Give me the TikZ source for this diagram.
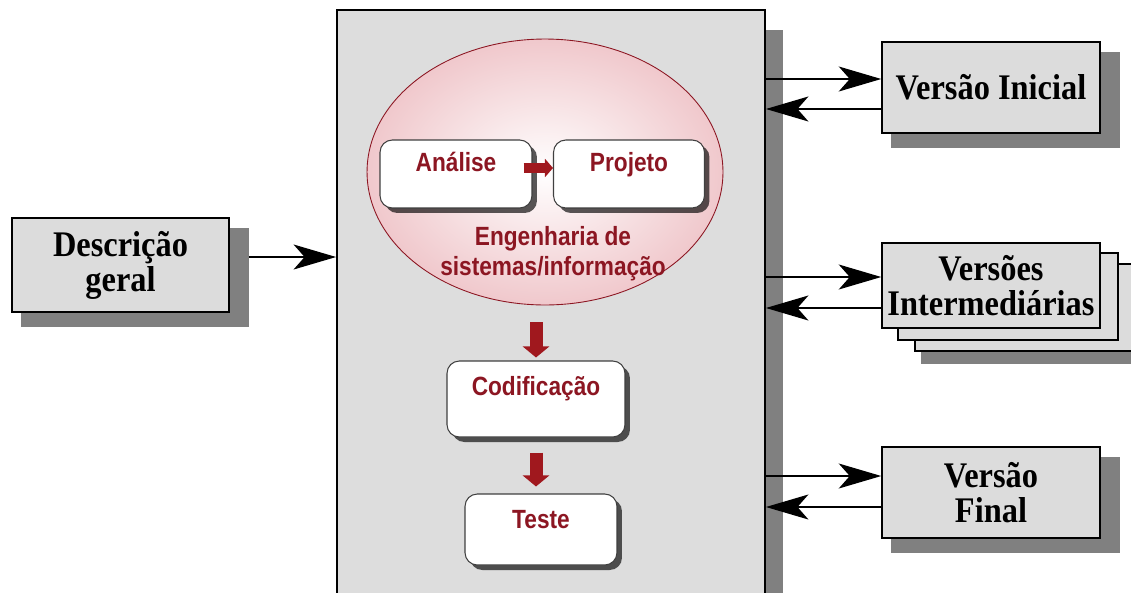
\documentclass[tikz,border=0pt]{standalone}
\usepackage{fontspec}
\setmainfont{Liberation Serif}
\setsansfont{Liberation Sans}
\newfontfamily\narrowserif[FakeStretch=0.9]{Liberation Serif}
\newfontfamily\narrowsans[FakeStretch=0.86]{Liberation Sans}
\usepackage{xcolor}
\usepackage{tikz}
\usetikzlibrary{shapes.geometric, arrows.meta, positioning, shadows, backgrounds, calc}
\definecolor{panelgray}{RGB}{221,221,221}
\definecolor{boxgray}{RGB}{220,220,220}
\definecolor{shadowgray}{RGB}{128,128,128}
\definecolor{phasered}{RGB}{140,22,34}
\definecolor{arrowred}{RGB}{160,24,30}
\definecolor{ellipsepink}{RGB}{240,200,204}

\begin{document}
\begin{tikzpicture}[
    x=0.02cm, y=-0.02cm,
    versionbox/.style={draw, line width=0.9pt, fill=boxgray, minimum width=4.36cm, minimum height=1.82cm, align=center, inner sep=2pt, font=\narrowserif\bfseries\fontsize{20.5}{20}\selectfont},
    version/.style={versionbox, drop shadow={shadow xshift=0.28cm, shadow yshift=-0.24cm, shadow scale=1.05, fill=shadowgray, opacity=1}},
    phase/.style={draw=black!75, line width=0.6pt, fill=white, rounded corners=7pt, minimum width=3.04cm, minimum height=1.36cm, text height=10pt, text depth=0.44cm, text=phasered, font=\narrowsans\bfseries\fontsize{15}{17}\selectfont, drop shadow={shadow xshift=0.1cm, shadow yshift=-0.1cm, fill=black, opacity=0.65}},
    flow/.style={-{Stealth[length=0.85cm, width=0.5cm, inset=0.22cm]}, line width=0.8pt},
    blockarrow/.style={-{Triangle[length=0.22cm, width=0.52cm]}, line width=0.26cm, arrowred}
]
    \useasboundingbox (0,0) rectangle (1131,592);

    % Process panel
    \node[draw, line width=1.1pt, fill=panelgray, minimum width=8.56cm, minimum height=11.8cm, inner sep=0pt,
          drop shadow={shadow xshift=0.36cm, shadow yshift=-0.4cm, fill=shadowgray, opacity=1}] (proc) at (551,305) {};
    \node[ellipse, draw=phasered, line width=0.5pt, minimum width=7.12cm, minimum height=5.32cm,
          inner color=white, outer color=ellipsepink] (eng) at (545,172) {};
    \node[text=phasered, align=center, font=\narrowsans\bfseries\fontsize{15}{17}\selectfont] (engtxt) at (553,254) {Engenharia de\\sistemas/informação};

    % Phases
    \node[phase] (ana) at (456,174) {Análise};
    \node[phase, minimum width=3.02cm] (proj) at (629,174) {Projeto};
    \node[phase, minimum width=3.56cm, minimum height=1.52cm, text depth=0.48cm] (cod) at (536,399) {Codificação};
    \node[phase, minimum height=1.42cm, text depth=0.38cm] (teste) at (541,529.5) {Teste};

    \draw[blockarrow, line width=0.2cm, -{Triangle[length=0.16cm, width=0.36cm]}] ([shift={(-0.18cm,0.12cm)}]ana.east) -- ([yshift=0.12cm]proj.west);
    \draw[blockarrow, shorten <=0.34cm, shorten >=0.06cm] (eng.south -| cod.north) -- (cod.north);
    \draw[blockarrow, shorten <=0.3cm, shorten >=0.14cm] (cod.south) -- (cod.south |- teste.north);

    % Input and versions
    \node[version, minimum width=4.34cm, minimum height=1.88cm] (desc) at (120.5,265) {Descrição\\geral};
    \node[version] (vi) at (991,87.5) {Versão Inicial};
    \node[versionbox, minimum height=1.7cm] (vim) at (991,285.5) {Versões\\Intermediárias};
    \node[version] (vf) at (991,492.5) {Versão\\Final};

    \begin{scope}[on background layer]
        \fill[shadowgray] ([shift={(0.8cm,-0.7cm)}]vim.north west) rectangle ([shift={(0.8cm,-0.7cm)}]vim.south east);
        \foreach \s in {2,1}
            \draw[line width=0.9pt, fill=boxgray] ([shift={(\s*0.34cm,-\s*0.22cm)}]vim.north west) rectangle ([shift={(\s*0.34cm,-\s*0.22cm)}]vim.south east);
    \end{scope}

    % Connections
    \coordinate (desc-out) at ([yshift=0.16cm]desc.east);
    \draw[flow, shorten <=0.38cm] (desc-out) -- (desc-out -| proc.west);
    \foreach \v/\up/\dn in {vi/0.17/-0.43, vim/0.17/-0.45, vf/0.33/-0.29} {
        \coordinate (\v-out) at ([yshift=\up cm]\v.west);
        \coordinate (\v-in) at ([yshift=\dn cm]\v.west);
        \draw[flow] (proc.east |- \v-out) -- (\v-out);
        \draw[flow] (\v-in) -- (proc.east |- \v-in);
    }
\end{tikzpicture}
\end{document}
